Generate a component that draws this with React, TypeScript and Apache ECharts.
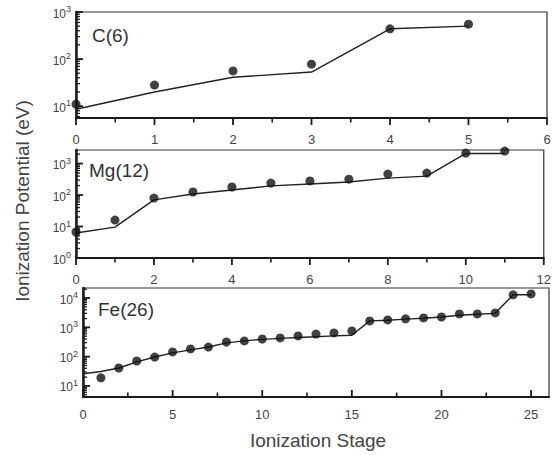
import React, { useEffect, useRef } from 'react';
import * as echarts from 'echarts';

// ---- Data ----
const cStages = [0, 1, 2, 3, 4, 5];
const cMeasured = [11, 28, 56, 78, 440, 550];
const cTheory = [8.6, 20, 41, 53, 440, 500];

const mgStages = [0, 1, 2, 3, 4, 5, 6, 7, 8, 9, 10, 11];
const mgMeasured = [6.7, 16, 80, 125, 180, 240, 280, 320, 465, 500, 2150, 2500];
const mgTheory = [6.2, 9.6, 70, 108, 145, 195, 225, 260, 345, 400, 2100, 2100];

const feStages = [0, 1, 2, 3, 4, 5, 6, 7, 8, 9, 10, 11, 12, 13, 14, 15, 16, 17, 18, 19, 20, 21, 22, 23, 24, 25];
const feMeasured = [null, 19, 41, 71, 97, 145, 183, 213, 316, 345, 400, 435, 510, 590, 645, 755, 1660, 1790, 1950, 2100, 2250, 2870, 2870, 3100, 12900, 13800];
const feTheory = [26, 31, 41, 66, 97, 134, 170, 213, 295, 345, 390, 420, 450, 480, 510, 540, 1660, 1750, 1900, 2050, 2250, 2600, 2800, 3000, 12900, 12900];

// tick labels
const cXTicks = [0, 1, 2, 3, 4, 5, 6];
const mgXTicks = [0, 2, 4, 6, 8, 10, 12];
const feXTicks = [0, 5, 10, 15, 20, 25];
const cYRange = [5.6, 1000];
const mgYRange = [1, 2700];
const feYRange = [4.2, 22000];
const feXMax = 26;

const panelNames = ['C(6)', 'Mg(12)', 'Fe(26)'];
const yTitle = 'Ionization Potential (eV)';
const xTitle = 'Ionization Stage';

const FONT = '"Liberation Sans", Arial, sans-serif';
const INK = '#1a1a1a';
const LABEL = '#444';

function pairs(xs: number[], ys: (number | null)[]) {
  const out: [number, number][] = [];
  xs.forEach((x, i) => {
    const y = ys[i];
    if (y != null) out.push([x, y]);
  });
  return out;
}

function powLabel(v: number) {
  const e = Math.log10(v);
  const r = Math.round(e);
  if (Math.abs(e - r) > 1e-6) return '';
  return `{b|10}{s|${r}}`;
}

function logTicks(range: number[]) {
  const major: number[] = [];
  const minor: number[] = [];
  const d0 = Math.floor(Math.log10(range[0]));
  const d1 = Math.ceil(Math.log10(range[1]));
  for (let d = d0; d <= d1; d++) {
    const p = Math.pow(10, d);
    if (p >= range[0] - 1e-9 && p <= range[1] + 1e-9) major.push(p);
    for (let m = 2; m <= 9; m++) {
      const v = m * p;
      if (v > range[0] && v < range[1]) minor.push(v);
    }
  }
  return { major, minor };
}

export default function App() {
  const ref = useRef<HTMLDivElement>(null);
  useEffect(() => {
    if (!ref.current) return;
    const chart = echarts.init(ref.current, null, { renderer: 'svg' });

    const grids = [
      { left: 76, top: 12, width: 471, height: 106 },
      { left: 76, top: 150, width: 472, height: 108 },
      { left: 83, top: 288, width: 466, height: 109 },
    ].map((g) => ({ ...g, show: true, borderColor: '#333', borderWidth: 1.2, backgroundColor: 'transparent' }));

    const xDefs = [
      { ticks: cXTicks, max: cXTicks[cXTicks.length - 1], margin: 15, inside: false },
      { ticks: mgXTicks, max: mgXTicks[mgXTicks.length - 1], margin: 15, inside: false },
      { ticks: feXTicks, max: feXMax, margin: 11, inside: true },
    ];
    const xAxis = xDefs.map((d, i) => ({
      type: 'value',
      gridIndex: i,
      min: d.ticks[0],
      max: d.max,
      interval: d.ticks[1] - d.ticks[0],
      axisLine: { show: true, lineStyle: { color: INK, width: 2 } },
      axisTick: { show: false },
      minorTick: { show: false },
      splitLine: { show: false },
      axisLabel: {
        show: true,
        margin: d.margin,
        color: LABEL,
        fontFamily: FONT,
        fontSize: 13,
        showMaxLabel: i !== 2,
      },
    }));

    const yRanges = [cYRange, mgYRange, feYRange];
    const yAxis = yRanges.map((r, i) => ({
      type: 'log',
      logBase: 10,
      gridIndex: i,
      min: r[0],
      max: r[1],
      axisLine: { show: true, lineStyle: { color: INK, width: 2.5 } },
      axisTick: { show: false },
      splitLine: { show: false },
      axisLabel: {
        show: true,
        margin: 5,
        color: LABEL,
        fontFamily: FONT,
        formatter: (v: number) => powLabel(v),
        rich: {
          b: { fontSize: 12, lineHeight: 15, verticalAlign: 'bottom', color: LABEL, fontFamily: FONT },
          s: { fontSize: 9, lineHeight: 9, verticalAlign: 'top', color: LABEL, fontFamily: FONT },
        },
      },
    }));

    const panels = [
      { stages: cStages, meas: cMeasured, theo: cTheory },
      { stages: mgStages, meas: mgMeasured, theo: mgTheory },
      { stages: feStages, meas: feMeasured, theo: feTheory },
    ];
    const series: any[] = [];
    panels.forEach((p, i) => {
      series.push({
        type: 'line',
        xAxisIndex: i,
        yAxisIndex: i,
        data: pairs(p.stages, p.theo),
        showSymbol: false,
        symbol: 'none',
        lineStyle: { color: '#222', width: 1.4 },
        z: 2,
      });
      series.push({
        type: 'scatter',
        xAxisIndex: i,
        yAxisIndex: i,
        data: pairs(p.stages, p.meas),
        symbol: 'circle',
        symbolSize: 9,
        itemStyle: { color: '#111' },
        z: 3,
      });
    });

    // tick marks drawn through the axes' own scales
    xDefs.forEach((d, i) => {
      const yr = yRanges[i];
      const step = d.ticks[1] - d.ticks[0];
      const xMajor: number[] = [];
      const xMinor: number[] = [];
      for (let v = d.ticks[0]; v <= d.max + 1e-9; v += step) {
        xMajor.push(v);
        if (v + step / 2 < d.max) xMinor.push(v + step / 2);
      }
      const yt = logTicks(yr);
      series.push({
        type: 'custom',
        xAxisIndex: i,
        yAxisIndex: i,
        clip: false,
        silent: true,
        z: 5,
        data: [[d.ticks[0], yr[0]]],
        renderItem: (_params: any, api: any) => {
          const children: any[] = [];
          const origin = api.coord([d.ticks[0], yr[0]]);
          const x0 = origin[0];
          const y0 = origin[1];
          const dir = d.inside ? -1 : 1;
          const mk = (x1: number, y1: number, x2: number, y2: number, w: number) => ({
            type: 'line',
            shape: { x1, y1, x2, y2 },
            style: { stroke: INK, lineWidth: w },
          });
          xMajor.forEach((v) => {
            const p = api.coord([v, yr[0]]);
            children.push(mk(p[0], y0, p[0], y0 + dir * 7, 1.8));
          });
          xMinor.forEach((v) => {
            const p = api.coord([v, yr[0]]);
            children.push(mk(p[0], y0, p[0], y0 + dir * 4.5, 1.6));
          });
          yt.major.forEach((v) => {
            const p = api.coord([d.ticks[0], v]);
            children.push(mk(x0, p[1], x0 + 7, p[1], 1.8));
          });
          yt.minor.forEach((v) => {
            const p = api.coord([d.ticks[0], v]);
            children.push(mk(x0, p[1], x0 + 4, p[1], 1.3));
          });
          return { type: 'group', children };
        },
      });
    });

    const labelPos = [
      { x: 92, y: 36 },
      { x: 89, y: 171 },
      { x: 98, y: 310 },
    ];

    chart.setOption({
      animation: false,
      backgroundColor: '#fff',
      grid: grids,
      xAxis,
      yAxis,
      series,
      graphic: [
        ...panelNames.map((n, i) => ({
          type: 'text',
          left: labelPos[i].x,
          top: labelPos[i].y - 10,
          style: { text: n, fontFamily: FONT, fontSize: 19, fill: '#333' },
        })),
        {
          type: 'text',
          x: 22,
          y: 201,
          rotation: Math.PI / 2,
          style: {
            text: yTitle,
            fontFamily: FONT,
            fontSize: 19,
            fill: '#444',
            align: 'center',
            verticalAlign: 'middle',
          },
        },
        {
          type: 'text',
          x: 318,
          y: 440,
          style: {
            text: xTitle,
            fontFamily: FONT,
            fontSize: 19,
            fill: '#444',
            align: 'center',
            verticalAlign: 'middle',
          },
        },
      ],
    });
    return () => chart.dispose();
  }, []);
  return <div ref={ref} style={{ position: 'absolute', left: 0, top: 0, width: 554, height: 455 }} />;
}
